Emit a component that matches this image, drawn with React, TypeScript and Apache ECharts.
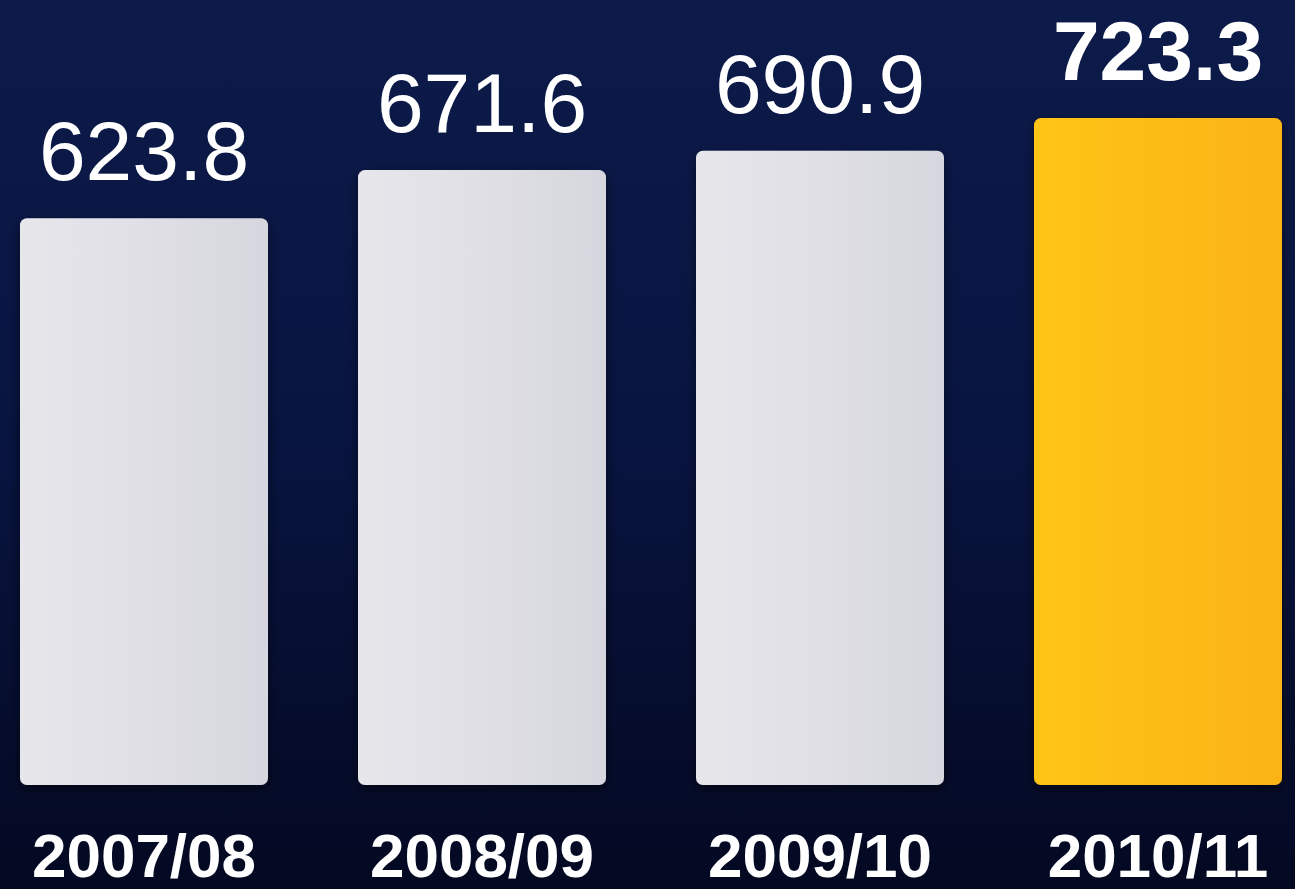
import React, { useEffect, useRef } from "react";
import * as echarts from "echarts";

const categories = ["2007/08", "2008/09", "2009/10", "2010/11"];
const values = [623.8, 671.6, 690.9, 723.3];
const highlighted = [false, false, false, true];

const FONT = "'Liberation Sans', Arial, Helvetica, sans-serif";

export default function App() {
  const ref = useRef<HTMLDivElement>(null);
  useEffect(() => {
    if (!ref.current) return;
    const chart = echarts.init(ref.current, null, { renderer: "svg" });
    const whiteBar = new echarts.graphic.LinearGradient(0, 0, 1, 0, [
      { offset: 0, color: "#e6e6eb" },
      { offset: 0.5, color: "#dfdfe5" },
      { offset: 1, color: "#d6d6de" },
    ]);
    const yellowBar = new echarts.graphic.LinearGradient(0, 0, 1, 0, [
      { offset: 0, color: "#fec514" },
      { offset: 1, color: "#fbb315" },
    ]);
    chart.setOption({
      animation: false,
      backgroundColor: new echarts.graphic.LinearGradient(0, 0, 0, 1, [
        { offset: 0, color: "#0d1b4a" },
        { offset: 0.5, color: "#081440" },
        { offset: 1, color: "#040922" },
      ]),
      grid: { left: 0, right: 0, top: 41, bottom: 104, containLabel: false },
      xAxis: {
        type: "category",
        data: categories,
        axisLine: { show: false },
        axisTick: { show: false },
        axisLabel: {
          color: "#ffffff",
          fontFamily: FONT,
          fontWeight: "bold",
          fontSize: 62,
          lineHeight: 54,
          margin: 43,
        },
      },
      yAxis: {
        type: "value",
        min: 60,
        max: 800,
        show: false,
        splitLine: { show: false },
      },
      series: [
        {
          type: "bar",
          barWidth: 248,
          data: values.map((v, i) => ({
            value: v,
            itemStyle: {
              color: highlighted[i] ? yellowBar : whiteBar,
              borderRadius: 7,
              shadowColor: "rgba(0,0,0,0.5)",
              shadowBlur: 12,
              shadowOffsetY: 4,
            },
            label: {
              show: true,
              position: "top",
              distance: 25,
              color: "#ffffff",
              fontFamily: FONT,
              fontSize: 84,
              fontWeight: highlighted[i] ? "bold" : "normal",
              formatter: (p: any) => p.value.toFixed(1),
            },
          })),
        },
      ],
    });
    return () => chart.dispose();
  }, []);
  return (
    <div
      ref={ref}
      style={{ position: "fixed", left: -25, top: 0, width: 1352, height: 889 }}
    />
  );
}
